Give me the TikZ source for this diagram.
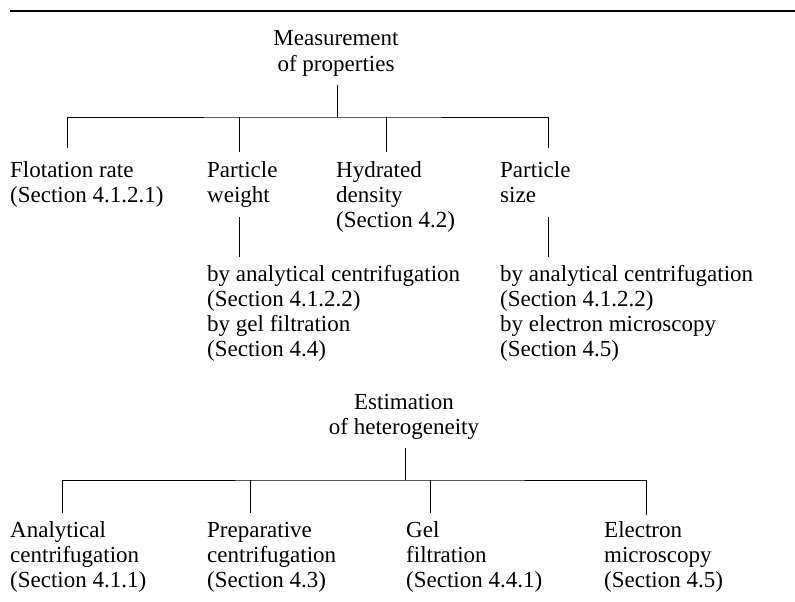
\documentclass[tikz,border=0pt]{standalone}
\usepackage{fontspec}
\setmainfont{Liberation Serif}
\begin{document}
\begin{tikzpicture}[x=1pt,y=-1pt,
  lbl/.style={anchor=base west, inner sep=0pt, align=left, font=\fontsize{23}{25}\selectfont},
  ctr/.style={anchor=base, inner sep=0pt, align=center, font=\fontsize{23}{25}\selectfont},
  conn/.style={line width=0.9pt},
  rule/.style={line width=1.4pt}]
\useasboundingbox (0,0) rectangle (795,602);
% top rule
\coordinate (r0) at (10,11);
\coordinate (r1) at (795,11);
\draw[rule] (r0) -- (r1);
% --- Measurement of properties (base anchor = baseline of last line)
\node[ctr] (meas) at (336,71) {Measurement\\of properties};
\node[lbl] (flot) at (10,202) {Flotation rate\\(Section 4.1.2.1)};
\node[lbl] (pw) at (207,202) {Particle\\weight};
\node[lbl] (hd) at (336,227) {Hydrated\\density\\(Section 4.2)};
\node[lbl] (ps) at (500,202) {Particle\\size};
\node[lbl] (pwm) at (207,356) {by analytical centrifugation\\(Section 4.1.2.2)\\by gel filtration\\(Section 4.4)};
\node[lbl] (psm) at (500,356) {by analytical centrifugation\\(Section 4.1.2.2)\\by electron microscopy\\(Section 4.5)};
\coordinate (m1) at (337,85);
\coordinate (b1) at (337,117);
\coordinate (t1) at (67.5,148);
\coordinate (t2) at (239,152);
\coordinate (t3) at (386,152);
\coordinate (t4) at (548,148);
\draw[conn] (m1) -- (b1);
\draw[conn] (t1) |- (b1) -| (t4);
\draw[conn] (t2) -- (t2 |- b1);
\draw[conn] (t3) -- (t3 |- b1);
\coordinate (w1) at (239,217);
\coordinate (w2) at (239,257);
\coordinate (s1) at (548,217);
\coordinate (s2) at (548,257);
\draw[conn] (w1) -- (w2);
\draw[conn] (s1) -- (s2);
% --- Estimation of heterogeneity
\node[ctr] (est) at (404,434) {Estimation\\of heterogeneity};
\node[lbl] (ac) at (10,587) {Analytical\\centrifugation\\(Section 4.1.1)};
\node[lbl] (pc) at (207,587) {Preparative\\centrifugation\\(Section 4.3)};
\node[lbl] (gf) at (406,587) {Gel\\filtration\\(Section 4.4.1)};
\node[lbl] (em) at (604,587) {Electron\\microscopy\\(Section 4.5)};
\coordinate (e1) at (405,448);
\coordinate (b2) at (405,480);
\coordinate (u1) at (62,513);
\coordinate (u2) at (250,513);
\coordinate (u3) at (430,513);
\coordinate (u4) at (646,515);
\draw[conn] (e1) -- (b2);
\draw[conn] (u1) |- (b2) -| (u4);
\draw[conn] (u2) -- (u2 |- b2);
\draw[conn] (u3) -- (u3 |- b2);
\end{tikzpicture}
\end{document}
